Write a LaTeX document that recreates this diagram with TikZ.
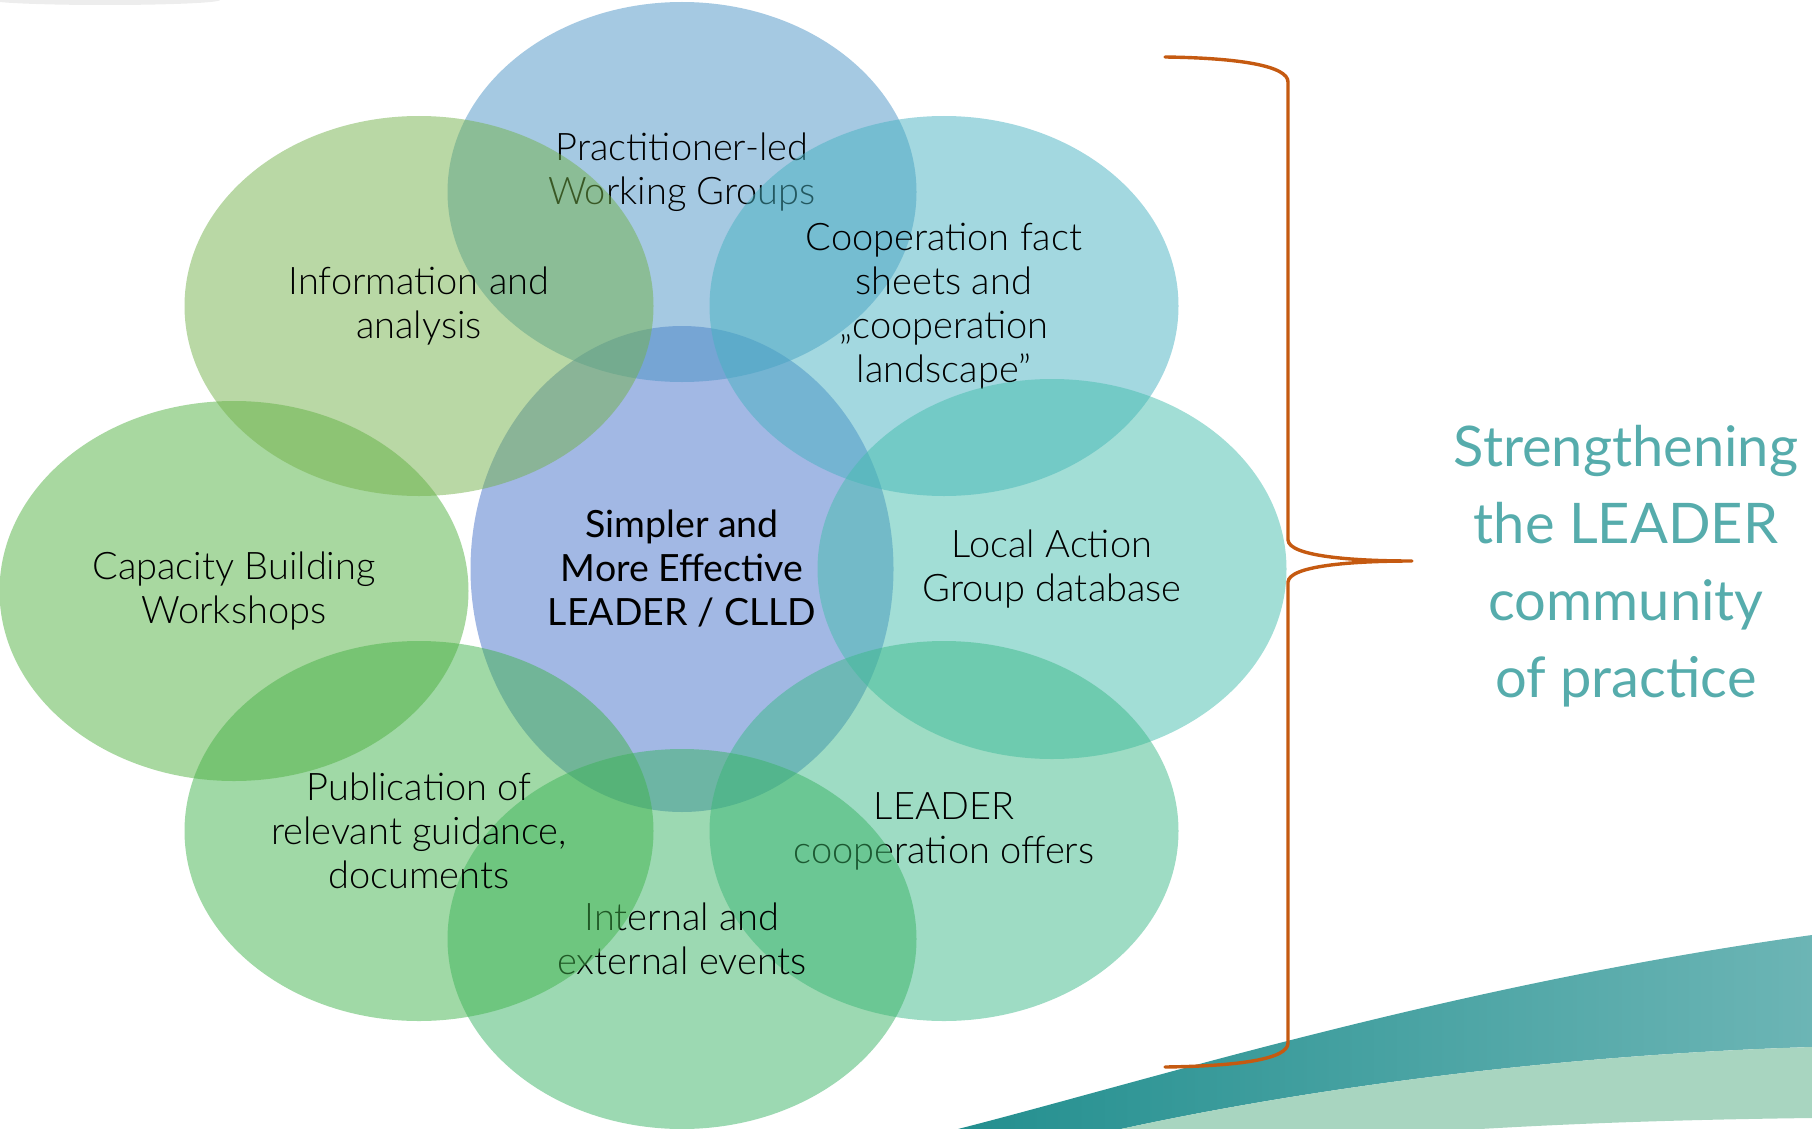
\documentclass[tikz,border=0pt]{standalone}
\usepackage{fontspec}
\setmainfont{Lato}
\newfontfamily\lightfont{Lato Light}
\usetikzlibrary{shapes.geometric}
\definecolor{cTop}{RGB}{75,147,197}
\definecolor{cCoop}{RGB}{71,177,193}
\definecolor{cLag}{RGB}{69,189,173}
\definecolor{cOffer}{RGB}{61,185,137}
\definecolor{cEvent}{RGB}{57,179,101}
\definecolor{cPub}{RGB}{65,179,77}
\definecolor{cCap}{RGB}{81,177,65}
\definecolor{cInfo}{RGB}{115,177,75}
\definecolor{cCenter}{RGB}{69,113,201}
\definecolor{braceOrange}{RGB}{197,90,17}
\definecolor{tealText}{RGB}{86,172,172}
\definecolor{waveDarkL}{RGB}{35,143,143}
\definecolor{waveDarkR}{RGB}{108,181,181}
\definecolor{waveLight}{RGB}{168,213,192}
\begin{document}
\begin{tikzpicture}[x=1pt,y=-1pt,
  bubble/.style={ellipse, inner sep=0pt, minimum width=469pt, minimum height=380pt,
    fill opacity=0.5, text opacity=1, align=center, text=black,
    font=\lightfont\fontsize{38}{44}\selectfont},
  bubbletext/.style={align=center, text=black, inner sep=0pt,
    font=\lightfont\fontsize{38}{44}\selectfont},
  bracestyle/.style={draw=braceOrange, line width=3.4pt, line cap=round, line join=round},
]
\useasboundingbox (0,0) rectangle (1812,1129);
% faint top shadow
\fill[black, opacity=0.07] (105,0) ellipse [x radius=115, y radius=5];
% wave
\shade[left color=waveDarkL, right color=waveDarkR]
  (958,1129) .. controls (1150,1080) and (1450,985) .. (1812,935)
  -- (1812,1047) .. controls (1550,1055) and (1300,1090) .. (1121,1129) -- cycle;
\fill[waveLight]
  (1121,1129) .. controls (1300,1090) and (1550,1055) .. (1812,1047)
  -- (1812,1118) .. controls (1650,1120) and (1550,1125) .. (1480,1129) -- cycle;
% bubbles
\node[bubble, fill=cCenter, minimum width=423pt, minimum height=486pt,
  font=\fontsize{37.5}{44}\selectfont] (center) at (682,569)
  {Simpler and\\More Effective\\LEADER / CLLD};
\node[bubble, fill=cTop] (wg) at (682,192) {};
\node[bubbletext] (wgtext) at (682,172) {Practitioner-led\\Working Groups};
\node[bubble, fill=cCoop] (coop) at (944,306) {Cooperation fact\\sheets and\\„cooperation\\landscape”};
\node[bubble, fill=cLag] (lag) at (1052,569) {Local Action\\Group database};
\node[bubble, fill=cOffer] (offers) at (944,831) {LEADER\\cooperation offers};
\node[bubble, fill=cEvent] (events) at (682,939) {Internal and\\external events};
\node[bubble, fill=cPub] (pub) at (419,831) {Publication of\\relevant guidance,\\documents};
\node[bubble, fill=cCap] (cap) at (234,591) {Capacity Building\\Workshops};
\node[bubble, fill=cInfo] (info) at (419,306) {Information and\\analysis};
% brace
\coordinate (bTop) at (1165,57);
\coordinate (bTip) at (1412,561);
\coordinate (bBot) at (1165,1067);
\draw[bracestyle] (bTop) .. controls (1240,58) and (1288,66) .. (1288,82)
  -- (1288,540) .. controls (1289,556) and (1350,561) .. (bTip)
  .. controls (1350,561) and (1289,566) .. (1288,582)
  -- (1288,1043) .. controls (1288,1059) and (1240,1066) .. (bBot);
% right text
\node[align=center, text=tealText, font=\fontsize{56}{77}\selectfont] (strength) at (1626,566)
  {Strengthening\\the LEADER\\community\\of practice};
\end{tikzpicture}
\end{document}
